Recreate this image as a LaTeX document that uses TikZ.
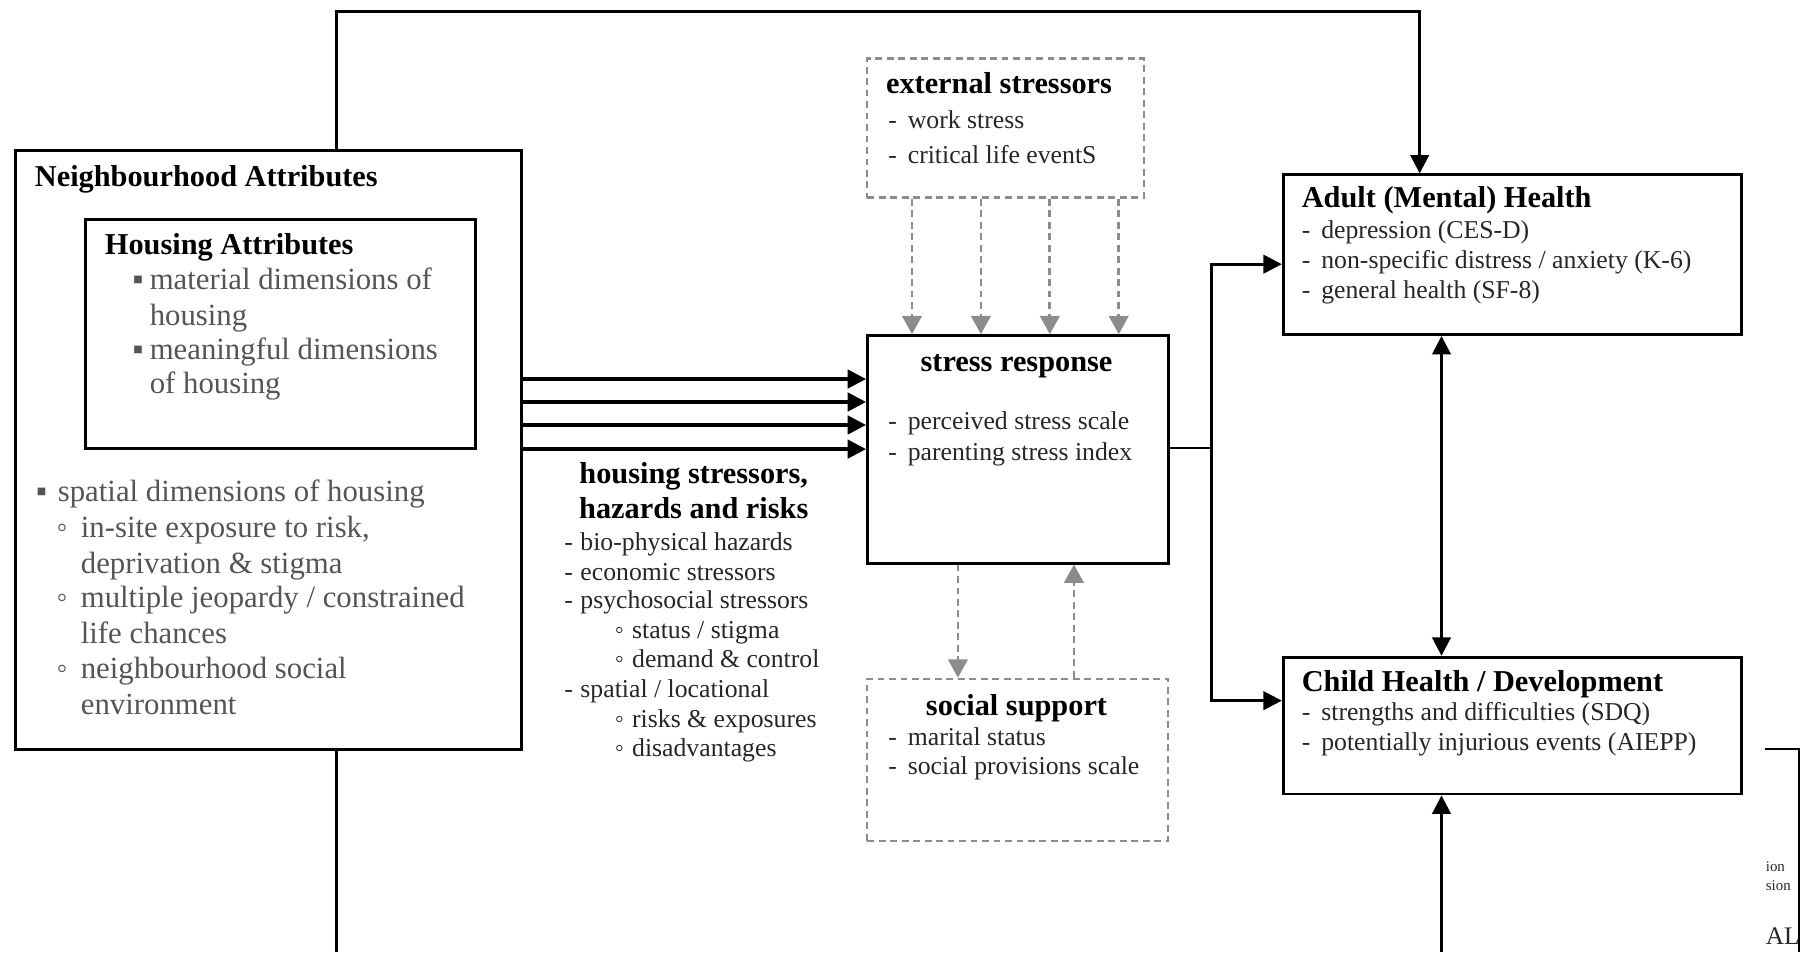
\documentclass[tikz,border=0pt]{standalone}
\usepackage{fontspec}
\setmainfont{Liberation Serif}
\usetikzlibrary{arrows.meta}

\definecolor{dashgrey}{RGB}{140,140,140}
\definecolor{itemgrey}{RGB}{85,85,85}

\newcommand{\sqbul}[1]{\makebox[#1][l]{▪}}
\newcommand{\circbul}[1]{\makebox[#1][l]{◦}}
\newcommand{\dashbul}[1]{\makebox[#1][l]{-}}

\tikzset{
  box/.style={draw, line width=1.25pt, anchor=north west, inner sep=0pt},
  dbox/.style={draw=dashgrey, line width=1pt, dash pattern=on 3pt off 2pt, anchor=north west, inner sep=0pt},
  head/.style={font=\bfseries\fontsize{13.2}{15}\selectfont, inner sep=0pt, anchor=base west},
  item/.style={font=\fontsize{11.2}{13}\selectfont, text=black!85, inner sep=0pt, anchor=base west},
  bigitem/.style={font=\fontsize{13.4}{16}\selectfont, text=itemgrey, inner sep=0pt, anchor=base west},
  link/.style={line width=1.2pt, -{Triangle[length=8pt,width=8pt]}},
  link2/.style={line width=1.2pt, {Triangle[length=8pt,width=8pt]}-{Triangle[length=8pt,width=8pt]}},
  fatlink/.style={line width=1.5pt, -{Triangle[length=8pt,width=8pt]}},
  dlink/.style={draw=dashgrey, line width=1.2pt, dash pattern=on 3pt off 2pt, -{Triangle[length=8pt,width=8.5pt]}, dashgrey}
}

\begin{document}
\begin{tikzpicture}[x=0.5pt,y=-0.5pt]
\useasboundingbox (0,0) rectangle (1568,829);

% boxes
\node[box, minimum width=220.5pt, minimum height=260.5pt] (nb) at (12,130) {};
\node[box, minimum width=170pt, minimum height=99.5pt] (ha) at (73,190) {};
\node[box, minimum width=131pt, minimum height=99pt] (stress) at (754,291) {};
\node[dbox, minimum width=120.5pt, minimum height=60.5pt] (ext) at (754,50) {};
\node[dbox, minimum width=131pt, minimum height=70.5pt] (social) at (754,590) {};
\node[box, minimum width=199.5pt, minimum height=69.5pt] (adult) at (1116,151) {};
\node[box, minimum width=199.5pt, minimum height=59.5pt] (child) at (1116,571) {};

% neighbourhood attributes
\node[head] (nbhead) at (30,162) {Neighbourhood Attributes};
\node[head] (hahead) at (91,222) {Housing Attributes};
\node[bigitem] (ha1) at (115,252) {\sqbul{7.5pt}material dimensions of};
\node[bigitem] (ha2) at (130,283) {housing};
\node[bigitem] (ha3) at (115,313) {\sqbul{7.5pt}meaningful dimensions};
\node[bigitem] (ha4) at (130,343) {of housing};
\node[bigitem] (sp0) at (31,437) {\sqbul{9.5pt}spatial dimensions of housing};
\node[bigitem] (sp1) at (49,468) {\circbul{10.5pt}in-site exposure to risk,};
\node[bigitem] (sp2) at (70,499) {deprivation \& stigma};
\node[bigitem] (sp3) at (49,529) {\circbul{10.5pt}multiple jeopardy / constrained};
\node[bigitem] (sp4) at (70,560) {life chances};
\node[bigitem] (sp5) at (49,591) {\circbul{10.5pt}neighbourhood social};
\node[bigitem] (sp6) at (70,622) {environment};

% housing stressors
\node[head, anchor=base] (hshead1) at (604,421) {housing stressors,};
\node[head, anchor=base] (hshead2) at (604,451) {hazards and risks};
\node[item] (hs1) at (491,479) {\dashbul{7pt}bio-physical hazards};
\node[item] (hs2) at (491,505) {\dashbul{7pt}economic stressors};
\node[item] (hs3) at (491,530) {\dashbul{7pt}psychosocial stressors};
\node[item] (hs4) at (535,556) {\circbul{7.5pt}status / stigma};
\node[item] (hs5) at (535,581) {\circbul{7.5pt}demand \& control};
\node[item] (hs6) at (491,607) {\dashbul{7pt}spatial / locational};
\node[item] (hs7) at (535,633) {\circbul{7.5pt}risks \& exposures};
\node[item] (hs8) at (535,659) {\circbul{7.5pt}disadvantages};

% external stressors
\node[head] (exthead) at (771,81) {external stressors};
\node[item] (ext1) at (773,112) {\dashbul{8.5pt}work stress};
\node[item] (ext2) at (773,142) {\dashbul{8.5pt}critical life eventS};

% stress response
\node[head, anchor=base] (srhead) at (885,323) {stress response};
\node[item] (sr1) at (773,374) {\dashbul{8.5pt}perceived stress scale};
\node[item] (sr2) at (773,401) {\dashbul{8.5pt}parenting stress index};

% social support
\node[head, anchor=base] (sshead) at (885,623) {social support};
\node[item] (ss1) at (773,649) {\dashbul{8.5pt}marital status};
\node[item] (ss2) at (773,674) {\dashbul{8.5pt}social provisions scale};

% adult health
\node[head] (adhead) at (1133,181) {Adult (Mental) Health};
\node[item] (ad1) at (1133,208) {\dashbul{8.5pt}depression (CES-D)};
\node[item] (ad2) at (1133,234) {\dashbul{8.5pt}non-specific distress / anxiety (K-6)};
\node[item] (ad3) at (1133,260) {\dashbul{8.5pt}general health (SF-8)};

% child health
\node[head] (chhead) at (1133,602) {Child Health / Development};
\node[item] (ch1) at (1133,627) {\dashbul{8.5pt}strengths and difficulties (SDQ)};
\node[item] (ch2) at (1133,653) {\dashbul{8.5pt}potentially injurious events (AIEPP)};

% cut-off fragments at the right edge
\node[item, font=\fontsize{6.5}{7}\selectfont] (frag1) at (1537,759) {ion};
\node[item, font=\fontsize{6.5}{7}\selectfont] (frag2) at (1537,775) {sion};
\node[item, font=\fontsize{11}{12}\selectfont] (frag3) at (1537,822) {AL};
\draw[line width=0.8pt] (1537,652) -- (1566,652) -- (1566,829);

% connectors
\draw[fatlink] (nb.east |- 0,330) -- (stress.west |- 0,330);
\draw[fatlink] (nb.east |- 0,350) -- (stress.west |- 0,350);
\draw[fatlink] (nb.east |- 0,370) -- (stress.west |- 0,370);
\draw[fatlink] (nb.east |- 0,391) -- (stress.west |- 0,391);

\draw[link] (nb.north -| 293,0) -- (293,10) -| (adult.north -| 1236,0);
\draw[line width=1.2pt] (nb.south -| 293,0) -- (293,829);

\coordinate (split) at (1055,390);
\draw[line width=1.2pt] (stress.east |- split) -- (split);
\draw[link] (split) |- (adult.west |- 0,230);
\draw[link] (split) |- (child.west |- 0,610);

\draw[link2] (adult.south -| 1255,0) -- (child.north -| 1255,0);
\draw[link] (1255,829) -- (child.south -| 1255,0);

\draw[dlink] (ext.south -| 794,0) -- (stress.north -| 794,0);
\draw[dlink] (ext.south -| 854,0) -- (stress.north -| 854,0);
\draw[dlink] (ext.south -| 914,0) -- (stress.north -| 914,0);
\draw[dlink] (ext.south -| 974,0) -- (stress.north -| 974,0);

\draw[dlink] (stress.south -| 834,0) -- (social.north -| 834,0);
\draw[dlink] (social.north -| 935,0) -- (stress.south -| 935,0);
\end{tikzpicture}
\end{document}
